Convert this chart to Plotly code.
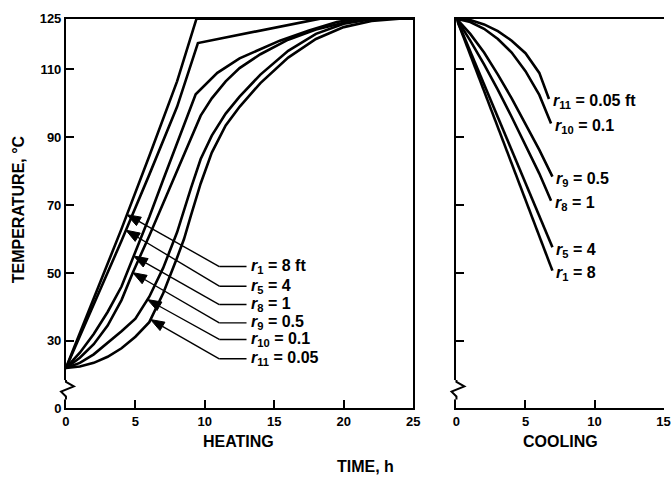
import numpy as np
import plotly.graph_objects as go

# ---------------- data ----------------
subscripts = ["1", "5", "8", "9", "10", "11"]
radii_ft = ["8", "4", "1", "0.5", "0.1", "0.05"]

# Heating (time h, temperature C)
heat_t = {
    "1":  [0, 2, 4, 6, 8, 9.4, 25],
    "5":  [0, 2, 4, 6, 8, 9.5, 18.3, 25],
    "8":  [0, 1, 2, 3, 4, 4.88, 6, 7, 8, 9.34, 10.9, 12.5, 15.4, 17.5, 19.5, 21, 25],
    "9":  [0, 1, 2, 3, 4, 4.81, 6, 7, 8, 9, 9.7, 10.5, 11.5, 12.5, 14, 16, 18, 20, 22, 25],
    "10": [0, 1, 2, 3, 4, 5, 6, 7, 8, 9, 9.7, 10.5, 11.5, 12.5, 14, 16, 18, 20, 22, 23, 25],
    "11": [0, 1, 2, 3, 4, 5, 6, 7, 8, 8.5, 9, 9.7, 10.5, 11.5, 12.5, 14, 16, 18, 20, 22, 24, 25],
}
heat_T = {
    "1":  [22, 42.5, 63, 84.5, 106.5, 125, 125],
    "5":  [22, 40.5, 59.5, 79, 99, 117.8, 125, 125],
    "8":  [22, 26.5, 32, 38.5, 46, 55, 66.5, 77.5, 88.5, 102.7, 109, 113.3, 118.5, 121.5, 124, 125, 125],
    "9":  [22, 25, 29, 34.5, 42, 50.1, 61, 70.5, 80, 90, 96.4, 101.5, 106.5, 110.4, 114.5, 118.8, 121.8, 123.8, 125, 125],
    "10": [22, 23.5, 26, 29.3, 32.8, 36.5, 43, 51.5, 62, 75, 83.6, 90.5, 97, 102, 108.5, 115.5, 120.5, 123.5, 124.8, 125, 125],
    "11": [22, 22.4, 23.5, 25.3, 27.8, 31.2, 35.5, 44, 54.5, 60, 67, 76.4, 85.5, 93.5, 99, 106, 113.5, 119, 122.5, 124.3, 125, 125],
}

# Cooling (time h, temperature C)
cool_t = {
    "1":  [0, 2, 4, 6, 6.95],
    "5":  [0, 2, 4, 6, 6.95],
    "8":  [0, 1, 2, 3, 4, 5, 6, 6.85],
    "9":  [0, 1, 2, 3, 4, 5, 6, 6.95],
    "10": [0, 1, 2, 3, 4, 5, 6, 6.85],
    "11": [0, 1, 2, 3, 4, 5, 6, 6.7],
}
cool_T = {
    "1":  [125, 103.5, 82.2, 61, 50.7],
    "5":  [125, 105.5, 86, 66.8, 57.6],
    "8":  [125, 118.5, 111.5, 104, 96, 87.8, 79.3, 71.3],
    "9":  [125, 120.5, 115, 108.5, 101.5, 94, 86.3, 78.4],
    "10": [125, 124, 122, 119, 115, 109.5, 102.5, 94.1],
    "11": [125, 124.6, 123.3, 121.3, 118.5, 114.8, 109, 101.3],
}

heat_ticks = [0, 5, 10, 15, 20, 25]
cool_ticks = [0, 5, 10, 15]
temp_ticks = [30, 50, 70, 90, 110, 125]

# arrow tips (time on curve) and label rows for heating legend
arrow_tip_t = [4.39, 4.32, 4.88, 4.81, 5.87, 6.09]
label_row_T = [51.9, 46.1, 40.7, 35.3, 30.4, 24.7]

# ---------------- layout constants ----------------
W, H = 671, 483
Y0 = 125 - 402 / 3.5   # broken axis bottom (labelled 0)
SX = 353 / 25          # px per hour on heating axis
SY = 402 / (125 - Y0)  # px per degree
FONT = "Liberation Sans, Arial, Helvetica, sans-serif"
LW = 2.6

def px(x, y):
    return x / W, 1 - y / H

fig = go.Figure()
for s in subscripts:
    fig.add_trace(go.Scatter(x=heat_t[s], y=heat_T[s], mode="lines",
                             line=dict(color="black", width=LW), xaxis="x", yaxis="y",
                             showlegend=False, hoverinfo="skip"))
    fig.add_trace(go.Scatter(x=cool_t[s], y=cool_T[s], mode="lines",
                             line=dict(color="black", width=LW), xaxis="x2", yaxis="y2",
                             showlegend=False, hoverinfo="skip"))

tickfont = dict(family=FONT, size=13, color="black", weight="bold")
axcommon = dict(showgrid=False, zeroline=False, showline=True, linecolor="black",
                linewidth=2, ticks="inside", ticklen=8, tickwidth=1.5, tickcolor="black",
                tickfont=tickfont)

fig.update_layout(
    width=W, height=H, margin=dict(l=0, r=0, t=0, b=0),
    paper_bgcolor="white", plot_bgcolor="white",
    xaxis=dict(domain=[63 / W, 416 / W], range=[0, 25], tickvals=heat_ticks,
               mirror=True, anchor="y", **axcommon),
    yaxis=dict(domain=[1 - 414 / H, 1 - 12 / H], range=[Y0, 125],
               tickvals=[Y0] + temp_ticks, ticktext=["0"] + [str(v) for v in temp_ticks],
               mirror=True, anchor="x", **axcommon),
    xaxis2=dict(domain=[460 / W, 1.0], range=[0, 15.03], tickvals=cool_ticks,
                mirror=True, anchor="y2", **axcommon),
    yaxis2=dict(domain=[1 - 414 / H, 1 - 12 / H], range=[Y0, 125],
                tickvals=temp_ticks[:-1], showticklabels=False, anchor="x2", **axcommon),
)

shapes = []
# axis-break zigzags
for ax_px in (63, 460):
    a = px(ax_px, 385); b = px(ax_px, 405)
    shapes.append(dict(type="line", xref="paper", yref="paper", x0=a[0], y0=a[1],
                       x1=b[0], y1=b[1], line=dict(color="white", width=5), layer="above"))
    pts = [(ax_px, 385), (ax_px, 387), (ax_px + 8, 391.5), (ax_px - 5, 397), (ax_px, 402), (ax_px, 405)]
    path = "M " + " L ".join(f"{px(x, y)[0]:.5f},{px(x, y)[1]:.5f}" for x, y in pts)
    shapes.append(dict(type="path", xref="paper", yref="paper", path=path,
                       line=dict(color="black", width=2), layer="above"))

annotations = []
lab_font = dict(family=FONT, size=16, color="black", weight="bold")
elbow_t = 11.04
seg_end_t = 13.0
HEAD_L, HEAD_W = 14.0, 5.0   # arrowhead size in px
for i, s in enumerate(subscripts):
    t0 = arrow_tip_t[i]
    T0 = float(np.interp(t0, heat_t[s], heat_T[s]))
    te, Te = elbow_t, label_row_T[i]
    # direction in pixel space
    dx, dy = (te - t0) * SX, (Te - T0) * SY
    n = np.hypot(dx, dy)
    ux, uy = dx / n, dy / n
    bx, by = HEAD_L * ux, HEAD_L * uy
    c1 = (t0 + (bx - HEAD_W * uy) / SX, T0 + (by + HEAD_W * ux) / SY)
    c2 = (t0 + (bx + HEAD_W * uy) / SX, T0 + (by - HEAD_W * ux) / SY)
    shapes.append(dict(type="path", xref="x", yref="y",
                       path=f"M {t0},{T0} L {c1[0]},{c1[1]} L {c2[0]},{c2[1]} Z",
                       fillcolor="black", line=dict(color="black", width=1)))
    shapes.append(dict(type="line", xref="x", yref="y", x0=t0 + bx / SX, y0=T0 + by / SY,
                       x1=te, y1=Te, line=dict(color="black", width=1.4)))
    shapes.append(dict(type="line", xref="x", yref="y", x0=te, x1=seg_end_t,
                       y0=Te, y1=Te, line=dict(color="black", width=1.4)))
    suffix = " ft" if i == 0 else ""
    annotations.append(dict(x=seg_end_t, y=label_row_T[i], xref="x", yref="y",
                            xanchor="left", yanchor="middle", xshift=2, showarrow=False,
                            text=f"<i>r</i><sub>{s}</sub> = {radii_ft[i]}{suffix}", font=lab_font))
    # cooling labels at curve ends
    suffix_c = " ft" if s == "11" else ""
    annotations.append(dict(x=cool_t[s][-1], y=cool_T[s][-1], xref="x2", yref="y2",
                            xanchor="left", yanchor="middle", xshift=2, yshift=-3, showarrow=False,
                            text=f"<i>r</i><sub>{s}</sub> = {radii_ft[i]}{suffix_c}", font=lab_font))

title_font = dict(family=FONT, size=16, color="black", weight="bold")
for txt, (x, y), ang in [("TEMPERATURE, °C", (15, 209), -90), ("HEATING", (238, 448), 0),
                         ("COOLING", (566, 448), 0), ("TIME, h", (368, 474), 0)]:
    p = px(x, y)
    annotations.append(dict(x=p[0], y=p[1], xref="paper", yref="paper", text=txt,
                            textangle=ang, showarrow=False, font=title_font,
                            xanchor="center", yanchor="middle"))

fig.update_layout(shapes=shapes, annotations=annotations)
fig.write_html("out.html")
